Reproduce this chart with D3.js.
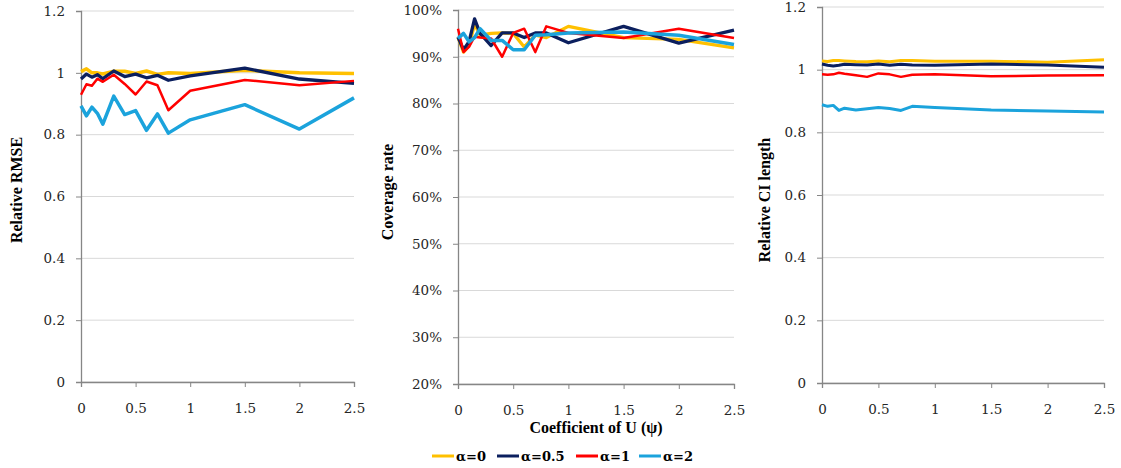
<!DOCTYPE html>
<html>
<head>
<meta charset="utf-8">
<script src="https://cdn.jsdelivr.net/npm/d3@7"></script>
<style>
  body { margin: 0; background: #fff; }
</style>
</head>
<body>
<div id="chart"></div>
<script>
// x values (coefficient of U, psi)
const psi = [0, 0.05, 0.1, 0.15, 0.2, 0.3, 0.4, 0.5, 0.6, 0.7, 0.8, 1, 1.5, 2, 2.5];
const xTicks = [0, 0.5, 1, 1.5, 2, 2.5];

const seriesNames = ["α=0", "α=0.5", "α=1", "α=2"];
const seriesColors = ["#ffc000", "#0b1f5e", "#ff0000", "#1ba3dc"];

// relative RMSE
const rmseA0  = [1.004, 1.013, 1.000, 1.000, 0.996, 1.005, 1.005, 0.998, 1.006, 0.995, 1.000, 0.998, 1.008, 1.000, 0.998];
const rmseA05 = [0.980, 0.996, 0.986, 0.994, 0.981, 1.006, 0.988, 0.996, 0.984, 0.992, 0.976, 0.990, 1.015, 0.980, 0.966];
const rmseA1  = [0.929, 0.963, 0.958, 0.981, 0.971, 0.994, 0.964, 0.930, 0.972, 0.960, 0.879, 0.942, 0.977, 0.960, 0.974];
const rmseA2  = [0.893, 0.861, 0.889, 0.869, 0.834, 0.925, 0.865, 0.878, 0.814, 0.867, 0.805, 0.848, 0.897, 0.818, 0.919];

// coverage rate (%)
const covA0  = [94.2, 91.0, 92.4, 97.0, 94.6, 95.0, 95.1, 95.0, 92.1, 94.6, 94.1, 96.5, 94.1, 93.7, 91.9];
const covA05 = [94.2, 91.5, 93.2, 98.1, 95.0, 92.4, 95.1, 95.1, 94.1, 95.1, 95.1, 93.0, 96.5, 92.9, 95.7];
const covA1  = [96.0, 91.0, 92.1, 94.3, 94.1, 93.9, 90.0, 95.1, 96.0, 91.0, 96.5, 95.1, 94.0, 96.0, 94.0];
const covA2  = [93.9, 95.0, 93.2, 94.1, 96.0, 93.5, 93.5, 91.5, 91.5, 94.6, 94.7, 95.1, 95.3, 94.6, 92.6];

// relative CI length
const ciA0  = [1.028, 1.026, 1.029, 1.029, 1.028, 1.026, 1.025, 1.028, 1.025, 1.029, 1.029, 1.027, 1.027, 1.024, 1.032];
const ciA05 = [1.018, 1.014, 1.012, 1.014, 1.017, 1.016, 1.015, 1.018, 1.014, 1.017, 1.015, 1.014, 1.018, 1.015, 1.008];
const ciA1  = [0.985, 0.984, 0.985, 0.990, 0.987, 0.982, 0.977, 0.988, 0.985, 0.977, 0.984, 0.985, 0.979, 0.981, 0.982];
const ciA2  = [0.888, 0.883, 0.886, 0.870, 0.877, 0.871, 0.875, 0.879, 0.876, 0.870, 0.883, 0.879, 0.871, 0.868, 0.865];

const svg = d3.select("#chart").append("svg")
    .attr("width", 1121)
    .attr("height", 468);

const fmtNum = d => String(+d.toFixed(1));
const fmtPct = d => d + "%";
const tickFont = "DejaVu Serif";
const titleFont = "Liberation Serif";

function drawPanel(p) {
  const x = d3.scaleLinear().domain([0, 2.5]).range([p.left, p.right]);
  const y = d3.scaleLinear().domain(p.domain).range([p.bottom, p.top]);
  const g = svg.append("g");

  // gridlines
  g.selectAll("line.grid")
    .data(p.ticks)
    .enter().append("line")
      .attr("x1", p.left).attr("x2", p.right)
      .attr("y1", d => y(d)).attr("y2", d => y(d))
      .attr("stroke", "#d9d9d9").attr("stroke-width", 1);

  // y axis
  const ya = g.append("g")
    .attr("transform", `translate(${p.left},0)`)
    .call(d3.axisLeft(y).tickValues(p.ticks).tickFormat(p.fmt).tickSize(5).tickPadding(11));
  ya.attr("font-family", tickFont).attr("font-size", 13.5);
  ya.select(".domain").attr("stroke", "#868686").attr("stroke-width", 1.3);
  ya.selectAll(".tick line").attr("stroke", "#868686");
  ya.selectAll("text").attr("fill", "#262626");

  // x axis
  const xa = g.append("g")
    .attr("transform", `translate(0,${p.bottom})`)
    .call(d3.axisBottom(x).tickValues(xTicks).tickFormat(fmtNum).tickSize(5).tickPadding(16));
  xa.attr("font-family", tickFont).attr("font-size", 13.5);
  xa.select(".domain").attr("stroke", "#868686").attr("stroke-width", 1.3);
  xa.selectAll(".tick line").attr("stroke", "#868686");
  xa.selectAll("text").attr("fill", "#262626");

  // y title
  g.append("text")
    .attr("transform", `translate(${p.titleX},${p.titleY}) rotate(-90)`)
    .attr("text-anchor", "middle")
    .attr("font-family", titleFont)
    .attr("font-size", 16).attr("font-weight", "bold")
    .attr("fill", "#000")
    .text(p.title);

  // lines
  const line = d3.line().x((d, i) => x(psi[i])).y(d => y(d));
  p.series.forEach((vals, i) => {
    g.append("path")
      .datum(vals)
      .attr("fill", "none")
      .attr("stroke", seriesColors[i])
      .attr("stroke-width", p.widths[i])
      .attr("stroke-linejoin", "round")
      .attr("d", line);
  });
}

drawPanel({
  left: 81, right: 354, top: 11, bottom: 382,
  domain: [0, 1.2], ticks: [0, 0.2, 0.4, 0.6, 0.8, 1, 1.2], fmt: fmtNum,
  title: "Relative RMSE", titleX: 22, titleY: 190,
  series: [rmseA0, rmseA05, rmseA1, rmseA2], widths: [3.5, 3.3, 2.5, 3.5]
});

drawPanel({
  left: 458, right: 734, top: 10, bottom: 384,
  domain: [20, 100], ticks: [20, 30, 40, 50, 60, 70, 80, 90, 100], fmt: fmtPct,
  title: "Coverage rate", titleX: 393, titleY: 192,
  series: [covA0, covA05, covA1, covA2], widths: [3.3, 3.3, 2.5, 3.5]
});

drawPanel({
  left: 822, right: 1104, top: 7, bottom: 383,
  domain: [0, 1.2], ticks: [0, 0.2, 0.4, 0.6, 0.8, 1, 1.2], fmt: fmtNum,
  title: "Relative CI length", titleX: 770, titleY: 200,
  series: [ciA0, ciA05, ciA1, ciA2], widths: [3, 3, 2.5, 3]
});

// shared x title
svg.append("text")
  .attr("x", 596).attr("y", 433)
  .attr("text-anchor", "middle")
  .attr("font-family", titleFont)
  .attr("font-size", 16).attr("font-weight", "bold")
  .attr("fill", "#000")
  .text("Coefficient of U (ψ)");

// legend
const legendX = [432, 497, 576, 639];
const legend = svg.append("g");
seriesNames.forEach((name, i) => {
  legend.append("line")
    .attr("x1", legendX[i]).attr("x2", legendX[i] + 22)
    .attr("y1", 456).attr("y2", 456)
    .attr("stroke", seriesColors[i]).attr("stroke-width", 3);
  legend.append("text")
    .attr("x", legendX[i] + 24).attr("y", 461)
    .attr("font-family", tickFont)
    .attr("font-size", 13).attr("font-weight", "bold")
    .attr("fill", "#000")
    .text(name);
});
</script>
</body>
</html>
